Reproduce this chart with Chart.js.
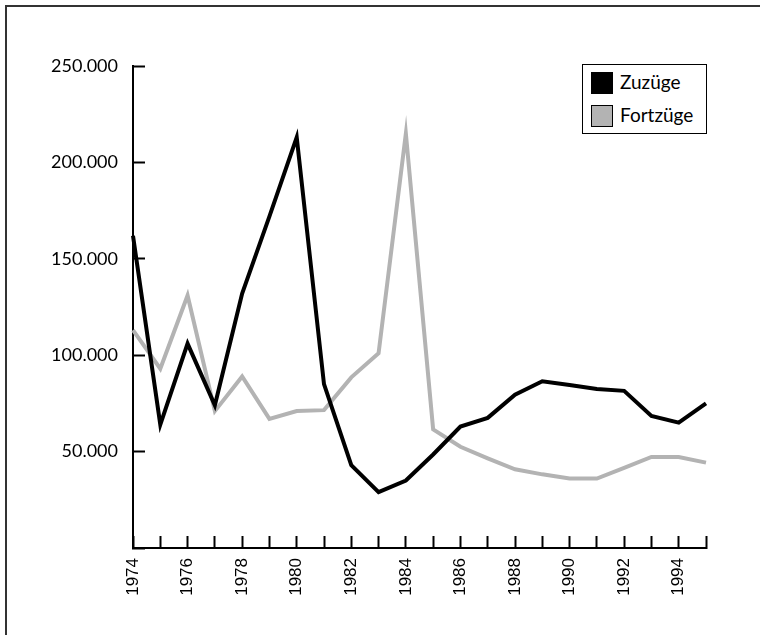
<!DOCTYPE html>
<html>
<head>
<meta charset="utf-8">
<script src="https://cdn.jsdelivr.net/npm/chart.js@4/dist/chart.umd.min.js"></script>
<style>
  html, body { margin: 0; padding: 0; background: #fff; overflow: hidden; }
  #wrap { position: relative; width: 760px; height: 635px; overflow: hidden; }
  #frame { position: absolute; left: 5px; top: 5px; width: 755px; height: 630px;
           border-left: 2px solid #333; border-top: 2px solid #333; }
  #chart { position: absolute; left: 0; top: 0; }
  #legend { position: absolute; left: 582px; top: 64px; width: 123px; height: 68px;
            border: 1px solid #000; background: #fff; font-family: Lato, sans-serif; font-size: 19px; }
  .item { position: absolute; left: 8px; height: 22px; line-height: 22px; }
  .box { position: absolute; left: 0; top: 0; width: 20px; height: 20px; border: 1px solid #000; }
  .lbl { position: absolute; left: 29px; top: -1px; white-space: nowrap; }
</style>
</head>
<body>
<div id="wrap">
  <div id="frame"></div>
  <canvas id="chart" width="760" height="635"></canvas>
  <div id="legend"></div>
</div>
<script>
// Jahre auf der x-Achse
const years = ['1974', '1975', '1976', '1977', '1978', '1979', '1980', '1981', '1982', '1983', '1984',
  '1985', '1986', '1987', '1988', '1989', '1990', '1991', '1992', '1993', '1994', '1995'];

// Zuzüge (schwarz)
const zuzuege = [162000, 64000, 106000, 74000, 132000, 172000, 213000, 85000, 43000, 29000, 35000,
  48500, 63000, 67500, 79500, 86500, 84500, 82500, 81500, 68500, 65000, 75000];

// Fortzüge (grau)
const fortzuege = [113000, 93000, 131000, 71000, 89000, 67000, 71000, 71500, 88500, 101000, 215000,
  61500, 52500, 46500, 40800, 38200, 36000, 36000, 41500, 47200, 47200, 44300];

const seriesNames = ['Zuzüge', 'Fortzüge'];
const seriesColors = ['#000000', '#b3b3b3'];

const yTicks = [0, 50000, 100000, 150000, 200000, 250000];

function fmt(v) {
  return v.toLocaleString('de-DE'); // 250.000
}

// HTML legend with a box round it
const legend = document.getElementById('legend');
seriesNames.forEach(function (name, i) {
  const item = document.createElement('div');
  item.className = 'item';
  item.style.top = (7 + i * 33) + 'px';
  item.innerHTML = '<span class="box" style="background:' + seriesColors[i] + '"></span><span class="lbl">' + name + '</span>';
  legend.appendChild(item);
});

new Chart(document.getElementById('chart'), {
  type: 'line',
  data: {
    labels: years,
    datasets: [
      {
        label: seriesNames[0],
        data: zuzuege,
        borderColor: seriesColors[0],
        borderWidth: 4,
        pointRadius: 0,
        tension: 0,
        clip: false
      },
      {
        label: seriesNames[1],
        data: fortzuege,
        borderColor: seriesColors[1],
        borderWidth: 4,
        pointRadius: 0,
        tension: 0,
        clip: false
      }
    ]
  },
  options: {
    responsive: false,
    animation: false,
    layout: { padding: { left: 0, top: 66, right: 54, bottom: 0 } },
    plugins: {
      legend: { display: false },
      tooltip: { enabled: false }
    },
    scales: {
      x: {
        type: 'category',
        offset: false,
        grid: {
          drawOnChartArea: false,
          tickLength: -12,
          tickWidth: 2,
          color: '#000'
        },
        border: { color: '#000', width: 2 },
        ticks: {
          autoSkip: false,
          maxRotation: 90,
          minRotation: 90,
          padding: 22,
          color: '#000',
          font: { family: '"Liberation Sans", Arial, sans-serif', size: 17 },
          callback: function (val, i) { return i % 2 === 0 ? years[i] : ''; }
        },
        afterFit: function (scale) { scale.height = 87; }
      },
      y: {
        min: 0,
        max: 250000,
        afterBuildTicks: function (scale) {
          scale.ticks = yTicks.map(function (v) { return { value: v }; });
        },
        grid: {
          drawOnChartArea: false,
          tickLength: -12,
          tickWidth: 2,
          color: '#000'
        },
        border: { color: '#000', width: 2 },
        ticks: {
          padding: 27,
          color: '#000',
          font: { family: 'Lato, sans-serif', size: 18 },
          callback: function (v) { return v === 0 ? '' : fmt(v); }
        },
        afterFit: function (scale) { scale.width = 133; }
      }
    }
  }
});
</script>
</body>
</html>
